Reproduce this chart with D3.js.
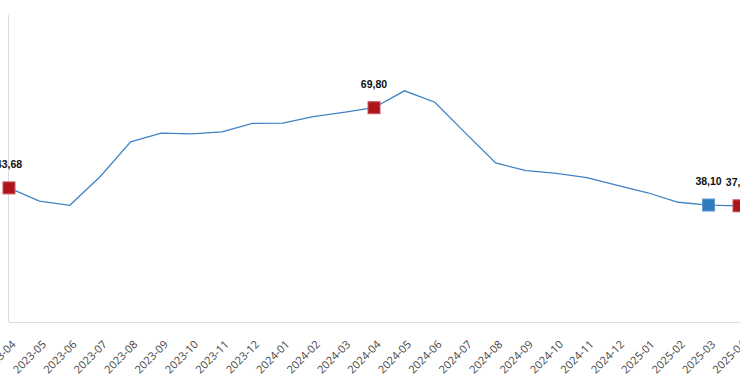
<!DOCTYPE html>
<html>
<head>
<meta charset="utf-8">
<script src="https://cdn.jsdelivr.net/npm/d3@7"></script>
<style>
  html, body { margin: 0; padding: 0; background: #fff; overflow: hidden; }
  svg { display: block; }
</style>
</head>
<body>
<svg id="chart" width="740" height="380"></svg>
<script>
const months = ["2023-04","2023-05","2023-06","2023-07","2023-08","2023-09","2023-10","2023-11","2023-12",
  "2024-01","2024-02","2024-03","2024-04","2024-05","2024-06","2024-07","2024-08","2024-09","2024-10","2024-11","2024-12",
  "2025-01","2025-02","2025-03","2025-04"];
const values = [43.68, 39.4, 38.0, 47.4, 58.7, 61.5, 61.3, 61.9, 64.7, 64.8, 66.9, 68.3, 69.80, 75.3, 71.6, 61.6, 51.8, 49.3, 48.4, 47.0, 44.5, 42.1, 39.0, 38.10, 37.85];
const highlightMonths = ["2023-04", "2024-04", "2025-03", "2025-04"];
const highlightLabels = ["43,68", "69,80", "38,10", "37,85"];
const highlightKinds = ["red", "red", "blue", "red"];
const yDomain = [0, 100];

const svg = d3.select("#chart");
const x = d3.scalePoint().domain(months).range([9, 739]);
const y = d3.scaleLinear().domain(yDomain).range([322, 15]);

// axes
const xAxis = d3.axisBottom(x).tickSize(0).tickPadding(0);
const gx = svg.append("g").attr("transform", "translate(0,322)").call(xAxis);
gx.select(".domain").attr("stroke", "#dcdcdc").attr("d", "M9,0.5H740");
gx.selectAll(".tick text")
  .attr("font-family", "'Open Sans', sans-serif")
  .attr("font-size", 11)
  .attr("fill", "#444")
  .attr("text-anchor", "end")
  .attr("dy", 0)
  .attr("y", 0)
  .attr("transform", "translate(7,23) rotate(-45)");

const gy = svg.append("g").attr("transform", "translate(9,0)").call(d3.axisLeft(y).ticks(0).tickSize(0));
gy.selectAll(".tick").remove();
gy.select(".domain").attr("stroke", "#dcdcdc").attr("d", "M-0.5,15V322");

// line
const line = d3.line().x((d, i) => x(months[i])).y(d => y(d));
svg.append("path")
  .datum(values)
  .attr("fill", "none")
  .attr("stroke", "#3d84c6")
  .attr("stroke-width", 1.3)
  .attr("d", line);

// markers
const colors = { red: ["#ae141c", "#c9575c"], blue: ["#2f7bbd", "#5f9bd0"] };
highlightMonths.forEach((m, k) => {
  const i = months.indexOf(m);
  const cx = x(m), cy = y(values[i]);
  svg.append("rect")
    .attr("x", cx - 6).attr("y", cy - 6)
    .attr("width", 12).attr("height", 12)
    .attr("fill", colors[highlightKinds[k]][0])
    .attr("stroke", colors[highlightKinds[k]][1])
    .attr("stroke-width", 1);
  svg.append("text")
    .attr("x", cx).attr("y", cy - 20)
    .attr("text-anchor", "middle")
    .attr("font-family", "'Liberation Sans', Arial, sans-serif")
    .attr("font-weight", "bold")
    .attr("font-size", 10.5)
    .attr("fill", "#111")
    .text(highlightLabels[k]);
});
</script>
</body>
</html>
